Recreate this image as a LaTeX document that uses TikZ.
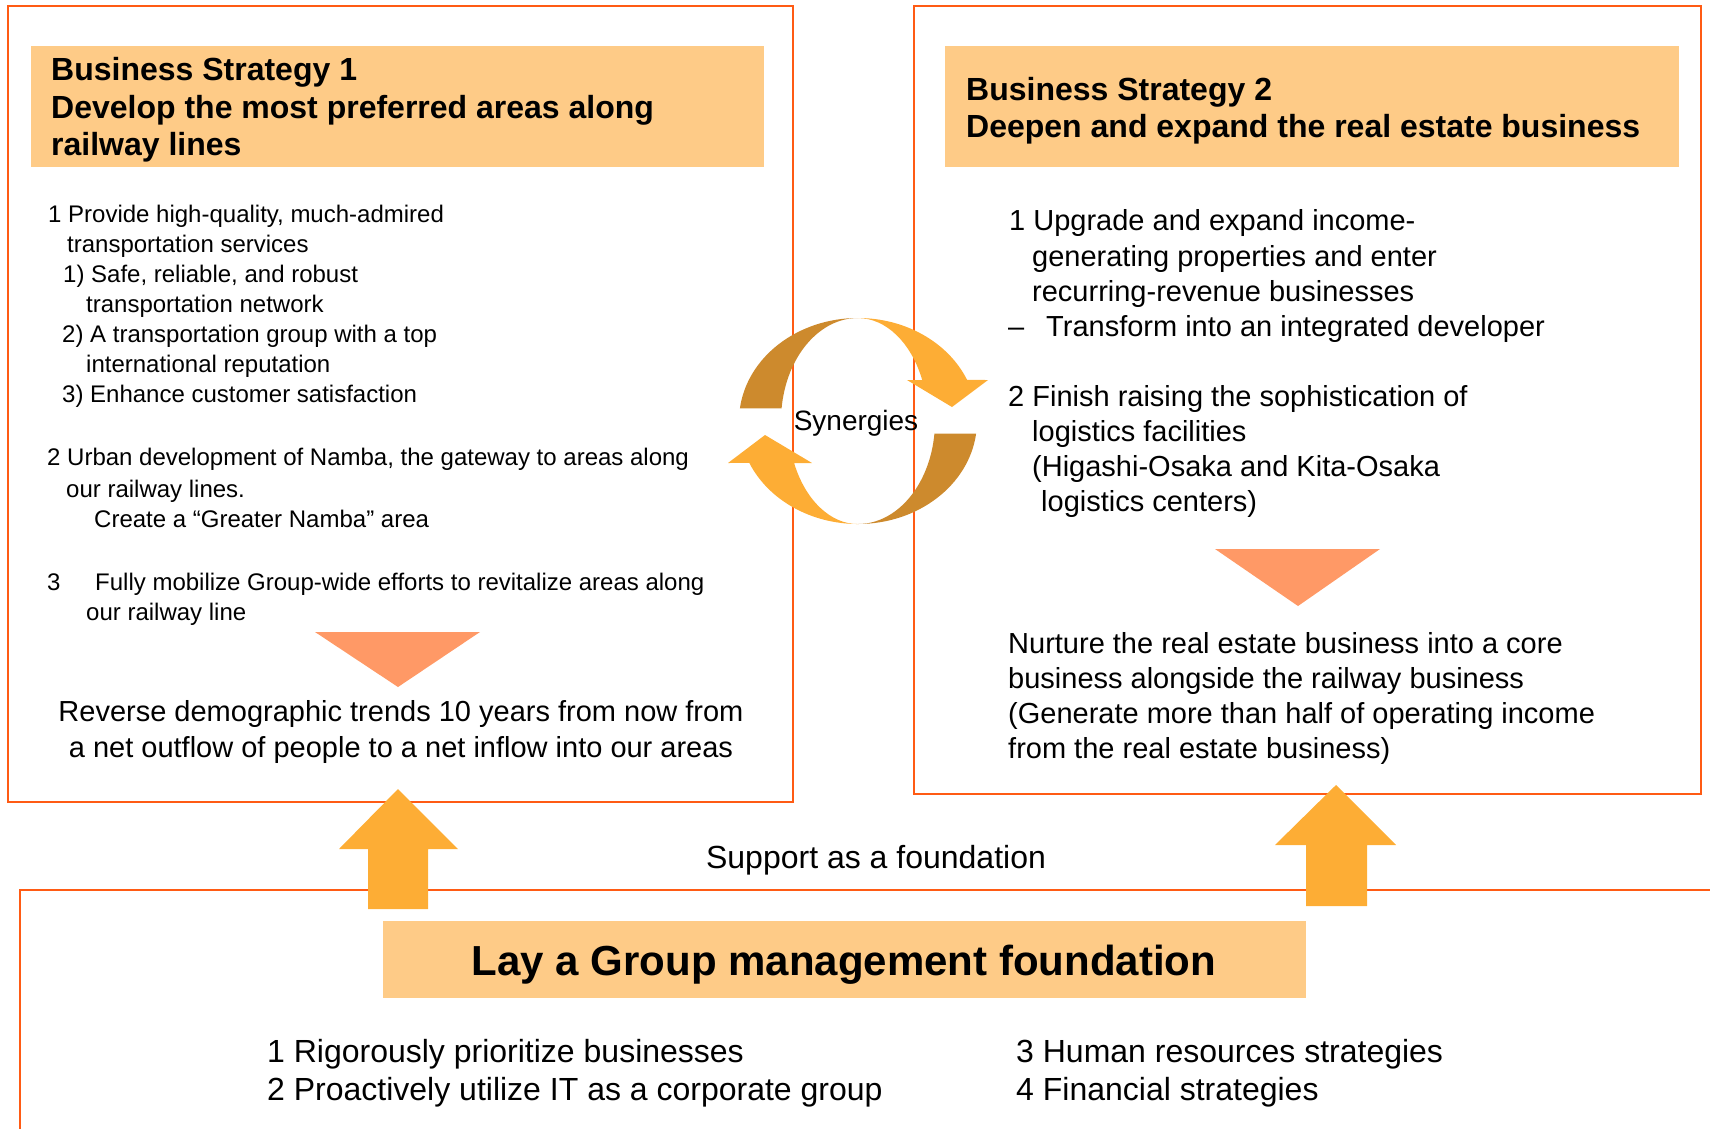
\documentclass[tikz,border=0pt]{standalone}
\usepackage{fontspec}
\setmainfont{Liberation Sans}
\usepackage{tikz}
\definecolor{edge}{HTML}{FF5B14}
\definecolor{band}{HTML}{FECB87}
\definecolor{wedge}{HTML}{FF9966}
\definecolor{lift}{HTML}{FDAD35}
\definecolor{ringdark}{HTML}{CD8A2D}
\tikzstyle{Frame}=[draw=edge, line width=2pt]
\tikzstyle{Band}=[fill=band]
\tikzstyle{Head}=[anchor=base west, inner sep=0, font=\fontsize{32}{38}\bfseries\selectfont]
\tikzstyle{Small}=[anchor=base west, inner sep=0, font=\fontsize{24}{30}\selectfont]
\tikzstyle{Mid}=[anchor=base west, inner sep=0, font=\fontsize{29}{35}\selectfont]
\tikzstyle{Big}=[anchor=base west, inner sep=0, font=\fontsize{32}{38}\selectfont]

\begin{document}
\begin{tikzpicture}[x=1pt, y=-1pt]
    \useasboundingbox (0,0) rectangle (1710,1128);

    % frames and title bands
    \draw[Frame] (8,6) rectangle (793,802);
    \draw[Frame] (914,6) rectangle (1701,794);
    \draw[Frame] (1712,890) -- (20,890) -- (20,1130);
    \fill[Band] (31,46) rectangle (764,167);
    \fill[Band] (945,46) rectangle (1679,167);
    \fill[Band] (383,921) rectangle (1306,998);

    % strategy 1
    \path
    (51,80) node[Head] (t1a) {Business Strategy 1}
    (51,118) node[Head] (t1b) {Develop the most preferred areas along}
    (51,155) node[Head] (t1c) {railway lines};

    \path
    (48,222) node[Small] (a1) {1 Provide high-quality, much-admired}
    (67,252) node[Small] (a2) {transportation services}
    (63,282) node[Small] (a3) {1) Safe, reliable, and robust}
    (86,312) node[Small] (a4) {transportation network}
    (62,342) node[Small] (a5) {2) A transportation group with a top}
    (86,372) node[Small] (a6) {international reputation}
    (62,402) node[Small] (a7) {3) Enhance customer satisfaction};

    \path
    (47,465) node[Small] (b1) {2 Urban development of Namba, the gateway to areas along}
    (66,497) node[Small] (b2) {our railway lines.}
    (94,527) node[Small] (b3) {Create a “Greater Namba” area}
    (47,590) node[Small] (c1) {3}
    (95,590) node[Small] (c2) {Fully mobilize Group-wide efforts to revitalize areas along}
    (86,620) node[Small] (c3) {our railway line};

    \fill[wedge] (315,632) -- (480,632) -- (398,687) -- cycle;
    \path
    (401,721) node[Mid, anchor=base] (goal1) {Reverse demographic trends 10 years from now from}
    (401,757) node[Mid, anchor=base] (goal1b) {a net outflow of people to a net inflow into our areas};

    % strategy 2
    \path
    (966,100) node[Head] (t2a) {Business Strategy 2}
    (966,137) node[Head] (t2b) {Deepen and expand the real estate business};

    \path
    (1009,230) node[Mid] (d1) {1 Upgrade and expand income-}
    (1032,266) node[Mid] (d2) {generating properties and enter}
    (1032,301) node[Mid] (d3) {recurring-revenue businesses}
    (1008,336) node[Mid] (d4) {–}
    (1046,336) node[Mid] (d5) {Transform into an integrated developer};

    \path
    (1008,406) node[Mid] (e1) {2 Finish raising the sophistication of}
    (1032,441) node[Mid] (e2) {logistics facilities}
    (1032,476) node[Mid] (e3) {(Higashi-Osaka and Kita-Osaka}
    (1041,511) node[Mid] (e4) {logistics centers)};

    \fill[wedge] (1215,549) -- (1380,549) -- (1298,606) -- cycle;
    \path
    (1008,653) node[Mid] (goal2a) {Nurture the real estate business into a core}
    (1008,688) node[Mid] (goal2b) {business alongside the railway business}
    (1008,723) node[Mid] (goal2c) {(Generate more than half of operating income}
    (1008,758) node[Mid] (goal2d) {from the real estate business)};

    % synergies ring
    \fill[ringdark] (858,421) ++(187:119 and 103)
        arc[start angle=187, end angle=270, x radius=119, y radius=103]
        arc[start angle=270, end angle=187, x radius=77, y radius=103] -- cycle;
    \fill[ringdark] (858,421) ++(7:119 and 103)
        arc[start angle=7, end angle=90, x radius=119, y radius=103]
        arc[start angle=90, end angle=7, x radius=77, y radius=103] -- cycle;
    \fill[lift] (858,421) ++(270:119 and 103)
        arc[start angle=270, end angle=336.5, x radius=119, y radius=103]
        -- (988,380) -- (952,407) -- (907,380) -- (922.2,380)
        arc[start angle=336.5, end angle=270, x radius=70, y radius=103] -- cycle;
    \fill[lift] (858,421) ++(90:119 and 103)
        arc[start angle=90, end angle=156, x radius=119, y radius=103]
        -- (728,463) -- (765,435) -- (812,463) -- (794.1,463)
        arc[start angle=156, end angle=90, x radius=70, y radius=103] -- cycle;
    \node[anchor=base, inner sep=0, font=\fontsize{28}{34}\selectfont] (syn) at (856,430) {Synergies};

    % support arrows
    \fill[lift] (368,909) -- (368,849) -- (339,849) -- (398,789) -- (458,849) -- (428,849) -- (428,909) -- cycle;
    \fill[lift] (1306,906) -- (1306,845) -- (1275,845) -- (1336,785) -- (1396,845) -- (1367,845) -- (1367,906) -- cycle;
    \node[Big, anchor=base] (support) at (876,868) {Support as a foundation};

    % foundation
    \node[inner sep=0, font=\fontsize{42}{50}\bfseries\selectfont] (found) at (844,965) {Lay a Group management foundation};
    \path
    (267,1062) node[Big] (f1) {1 Rigorously prioritize businesses}
    (267,1100) node[Big] (f2) {2 Proactively utilize IT as a corporate group}
    (1016,1062) node[Big] (f3) {3 Human resources strategies}
    (1016,1100) node[Big] (f4) {4 Financial strategies};
\end{tikzpicture}
\end{document}
